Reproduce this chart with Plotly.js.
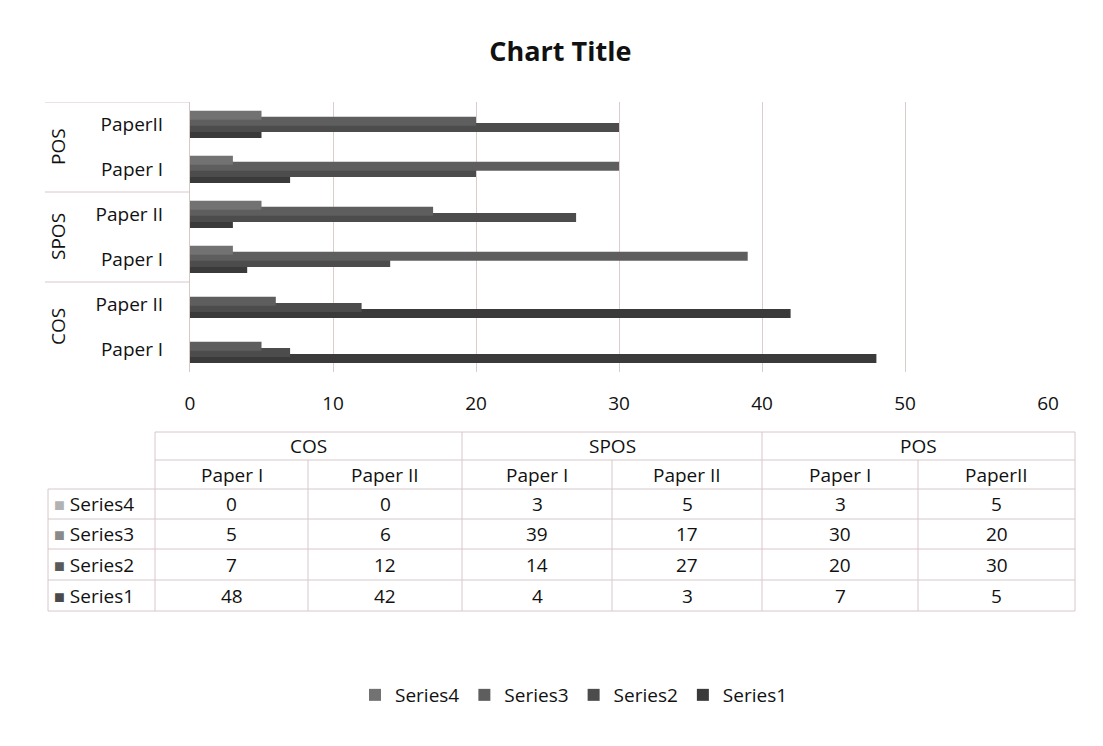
<!DOCTYPE html>
<html>
<head>
<meta charset="utf-8">
<script src="https://cdn.plot.ly/plotly-3.0.1.min.js"></script>
<style>html,body{margin:0;padding:0;background:#fff;}#chart{width:1103px;height:746px;}</style>
</head>
<body>
<div id="chart"></div>
<script>
// ---- data ----
const groups = ['COS', 'SPOS', 'POS'];
const papers = ['Paper I', 'Paper II', 'Paper I', 'Paper II', 'Paper I', 'PaperII'];
const categoryIds = ['COS Paper I', 'COS Paper II', 'SPOS Paper I', 'SPOS Paper II', 'POS Paper I', 'POS PaperII'];
const seriesNames = ['Series1', 'Series2', 'Series3', 'Series4'];
const series1 = [48, 42, 4, 3, 7, 5];
const series2 = [7, 12, 14, 27, 20, 30];
const series3 = [5, 6, 39, 17, 30, 20];
const series4 = [0, 0, 3, 5, 3, 5];
const xTicks = [0, 10, 20, 30, 40, 50, 60];

// ---- styling ----
const seriesValues = [series1, series2, series3, series4];
const barColors = ['#3a3a3a', '#4c4c4c', '#5e5e5e', '#727272'];
const legendColors = ['#4a4a4a', '#5a5a5a', '#8a8a8a', '#b2b2b2'];
const barWidth = 0.2, barStep = 0.135, firstOffset = -0.3;
const FONT = 'Open Sans, Lato, sans-serif';
const FS = 19;

const L = 190, R = 55, T = 102, B = 374, W = 1103 - L - R, H = 746 - T - B;
const px = p => (p - L) / W;
const py = p => ((746 - B) - p) / H;

const traces = seriesNames.map((name, i) => ({
  type: 'bar', orientation: 'h', name: name,
  y: categoryIds, x: seriesValues[i],
  width: barWidth, offset: firstOffset + i * barStep,
  marker: {color: barColors[i], line: {color: barColors[i], width: 0}},
  hoverinfo: 'x+name'
}));

const shapes = [];
const annotations = [];
const lineColor = '#d8c8c8';
function hline(x0, x1, y) { shapes.push({type: 'line', xref: 'paper', yref: 'paper', x0: px(x0), x1: px(x1), y0: py(y), y1: py(y), line: {color: lineColor, width: 1}}); }
function vline(x, y0, y1) { shapes.push({type: 'line', xref: 'paper', yref: 'paper', x0: px(x), x1: px(x), y0: py(y0), y1: py(y1), line: {color: lineColor, width: 1}}); }
function text(t, x, y, extra) { annotations.push(Object.assign({xref: 'paper', yref: 'paper', x: px(x), y: py(y), text: t, showarrow: false, xanchor: 'center', yanchor: 'middle', font: {family: FONT, size: FS, color: '#111'}}, extra || {})); }

// y-axis group dividers and group labels
[5.5, 3.5, 1.5].forEach(v => shapes.push({type: 'line', xref: 'paper', yref: 'y', x0: px(45), x1: 0, y0: v, y1: v, line: {color: lineColor, width: 1}}));
groups.forEach((g, i) => annotations.push({xref: 'paper', yref: 'y', x: px(58), y: 2 * i + 0.5, text: g, textangle: -90, showarrow: false, xanchor: 'center', yanchor: 'middle', font: {family: FONT, size: FS, color: '#111'}}));

// data table
const colX = [155, 308, 462, 612, 762, 918, 1075];
const rowY = [432, 460, 489, 519, 549, 580, 611];
hline(colX[0], colX[6], rowY[0]);
hline(colX[0], colX[6], rowY[1]);
for (let r = 2; r < rowY.length; r++) hline(48, colX[6], rowY[r]);
[0, 2, 4, 6].forEach(c => vline(colX[c], rowY[0], rowY[1]));
colX.forEach(x => vline(x, rowY[1], rowY[6]));
vline(48, rowY[2], rowY[6]);
groups.forEach((g, i) => text(g, (colX[2 * i] + colX[2 * i + 2]) / 2, (rowY[0] + rowY[1]) / 2));
papers.forEach((p, i) => text(p, (colX[i] + colX[i + 1]) / 2, (rowY[1] + rowY[2]) / 2));
const rowOrder = [3, 2, 1, 0];
rowOrder.forEach((s, r) => {
  const yc = (rowY[r + 2] + rowY[r + 3]) / 2;
  text('<span style="color:' + legendColors[s] + ';font-size:18px">■</span> ' + seriesNames[s], 52, yc, {xanchor: 'left'});
  seriesValues[s].forEach((v, c) => text(String(v), (colX[c] + colX[c + 1]) / 2, yc));
});

const layout = {
  width: 1103, height: 746,
  margin: {l: L, r: R, t: T, b: B},
  paper_bgcolor: '#ffffff', plot_bgcolor: '#ffffff',
  font: {family: FONT, color: '#111'},
  title: {text: '<b>Chart Title</b>', x: 0.508, xref: 'container', xanchor: 'center', y: 1 - 52 / 746, yref: 'container', yanchor: 'middle', font: {family: FONT, size: 27, color: '#111'}},
  barmode: 'overlay',
  xaxis: {range: [0, 60], tickvals: xTicks, ticktext: xTicks.map(String), showgrid: true, gridcolor: '#dccccc', gridwidth: 1, zeroline: false, showline: false, ticks: 'outside', ticklen: 14, tickcolor: 'rgba(0,0,0,0)', tickfont: {family: FONT, size: FS, color: '#111'}, fixedrange: true},
  yaxis: {type: 'category', categoryarray: categoryIds, categoryorder: 'array', tickvals: categoryIds, ticktext: papers, range: [-0.5, 5.5], showgrid: false, zeroline: false, showline: true, linecolor: '#d8c8c8', ticks: 'outside', ticklen: 22, tickcolor: 'rgba(0,0,0,0)', tickfont: {family: FONT, size: FS, color: '#111'}, fixedrange: true},
  showlegend: true,
  legend: {orientation: 'h', traceorder: 'reversed', x: px(574), xanchor: 'center', y: py(695), yanchor: 'middle', itemwidth: 30, font: {family: FONT, size: FS, color: '#111'}, bgcolor: 'rgba(0,0,0,0)'},
  shapes: shapes,
  annotations: annotations
};

Plotly.newPlot('chart', traces, layout, {displayModeBar: false, staticPlot: true});
</script>
</body>
</html>
